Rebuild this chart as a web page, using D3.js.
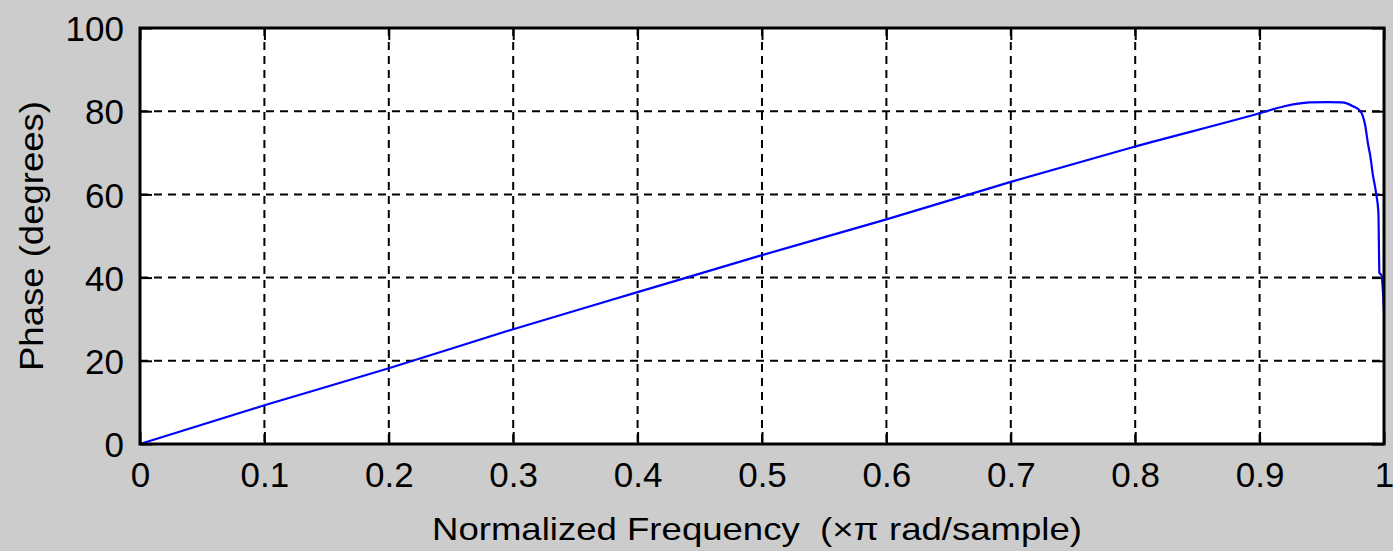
<!DOCTYPE html>
<html>
<head>
<meta charset="utf-8">
<script src="https://cdn.jsdelivr.net/npm/d3@7"></script>
<style>
  body { margin: 0; background: #cccccc; }
  text { font-family: "Liberation Sans", Arial, sans-serif; fill: #000; }
</style>
</head>
<body>
<div class="chart"></div>
<script>
var width = 1393;
var height = 551;

// normalized frequency (x pi rad/sample) and phase in degrees
var freq  = [0, 0.1, 0.2, 0.3, 0.4, 0.5, 0.6, 0.7, 0.8, 0.9, 0.92, 0.94, 0.955, 0.966, 0.975, 0.981, 0.985, 0.987, 0.989, 0.991, 0.9936, 0.9955, 0.9963, 0.998, 1.0];
var phase = [0, 9.3, 18.2, 27.6, 36.5, 45.4, 54.0, 63.0, 71.5, 79.5, 81.2, 82.1, 82.2, 82.1, 81.2, 80, 76.4, 72.4, 69.2, 64.8, 60.4, 55.6, 41.2, 40.5, 32];

var xTicks = [0, 0.1, 0.2, 0.3, 0.4, 0.5, 0.6, 0.7, 0.8, 0.9, 1];
var yTicks = [0, 20, 40, 60, 80, 100];

var margin = { left: 140, right: 9, top: 28, bottom: 107 };
var w = width - margin.left - margin.right;
var h = height - margin.top - margin.bottom;

var svg = d3.select('.chart')
	.append('svg')
	.attr('width', width)
	.attr('height', height)

var g = svg.append('g')
	.attr('transform', 'translate(' + margin.left + ',' + margin.top + ')')

var x = d3.scaleLinear().domain([0, 1]).range([0, w]);
var y = d3.scaleLinear().domain([0, 100]).range([h, 0]);

g.append('rect')
	.attr('width', w)
	.attr('height', h)
	.attr('fill', 'white')

// dashed grid
g.selectAll('.vgrid')
	.data(xTicks.slice(1, -1))
	.enter().append('line')
	.attr('x1', function(d){ return x(d) })
	.attr('x2', function(d){ return x(d) })
	.attr('y1', 0)
	.attr('y2', h)
	.attr('stroke', 'black')
	.attr('stroke-width', 2)
	.attr('stroke-dasharray', '8,6')

g.selectAll('.hgrid')
	.data(yTicks.slice(1, -1))
	.enter().append('line')
	.attr('x1', 0)
	.attr('x2', w)
	.attr('y1', function(d){ return y(d) })
	.attr('y2', function(d){ return y(d) })
	.attr('stroke', 'black')
	.attr('stroke-width', 2)
	.attr('stroke-dasharray', '8,6')

// axes with inward ticks
var xAxis = g.append('g')
	.attr('transform', 'translate(0,' + h + ')')
	.call(d3.axisBottom(x).tickValues(xTicks).tickSizeInner(-12).tickSizeOuter(0).tickPadding(18)
		.tickFormat(function(d){ return d === 0 || d === 1 ? String(d) : d3.format('.1f')(d) }))
xAxis.select('.domain').remove()

var xTop = g.append('g')
	.call(d3.axisTop(x).tickValues(xTicks).tickSizeInner(-12).tickSizeOuter(0).tickFormat(''))
xTop.select('.domain').remove()

var yAxis = g.append('g')
	.call(d3.axisLeft(y).tickValues(yTicks).tickSizeInner(-12).tickSizeOuter(0).tickPadding(16))
yAxis.select('.domain').remove()

var yRight = g.append('g')
	.attr('transform', 'translate(' + w + ',0)')
	.call(d3.axisRight(y).tickValues(yTicks).tickSizeInner(-12).tickSizeOuter(0).tickFormat(''))
yRight.select('.domain').remove()

g.selectAll('.tick line').attr('stroke', 'black').attr('stroke-width', 2)
g.selectAll('.tick text')
	.attr('font-family', '"Liberation Sans", Arial, sans-serif')
	.attr('font-size', 35)
	.attr('fill', 'black')
xAxis.selectAll('.tick text').attr('dy', '0.71em')
yAxis.selectAll('.tick text').attr('dy', '0.36em')

// the phase curve
var pts = freq.map(function(f, i){ return [f, phase[i]] });
var line = d3.line()
	.x(function(d){ return x(d[0]) })
	.y(function(d){ return y(d[1]) })
	.curve(d3.curveMonotoneX)

g.append('path')
	.datum(pts)
	.attr('d', line)
	.attr('fill', 'none')
	.attr('stroke', '#0000ff')
	.attr('stroke-width', 2.2)

// frame
g.append('rect')
	.attr('width', w)
	.attr('height', h)
	.attr('fill', 'none')
	.attr('stroke', 'black')
	.attr('stroke-width', 3)

// axis labels
svg.append('text')
	.attr('x', 757)
	.attr('y', 540)
	.attr('text-anchor', 'middle')
	.attr('font-size', 32)
	.attr('textLength', 650)
	.attr('lengthAdjust', 'spacingAndGlyphs')
	.style('white-space', 'pre')
	.text('Normalized Frequency  (\u00d7\u03c0 rad/sample)')

svg.append('text')
	.attr('transform', 'translate(43,236) rotate(-90)')
	.attr('text-anchor', 'middle')
	.attr('font-size', 34)
	.attr('textLength', 270)
	.attr('lengthAdjust', 'spacingAndGlyphs')
	.text('Phase (degrees)')
</script>
</body>
</html>
